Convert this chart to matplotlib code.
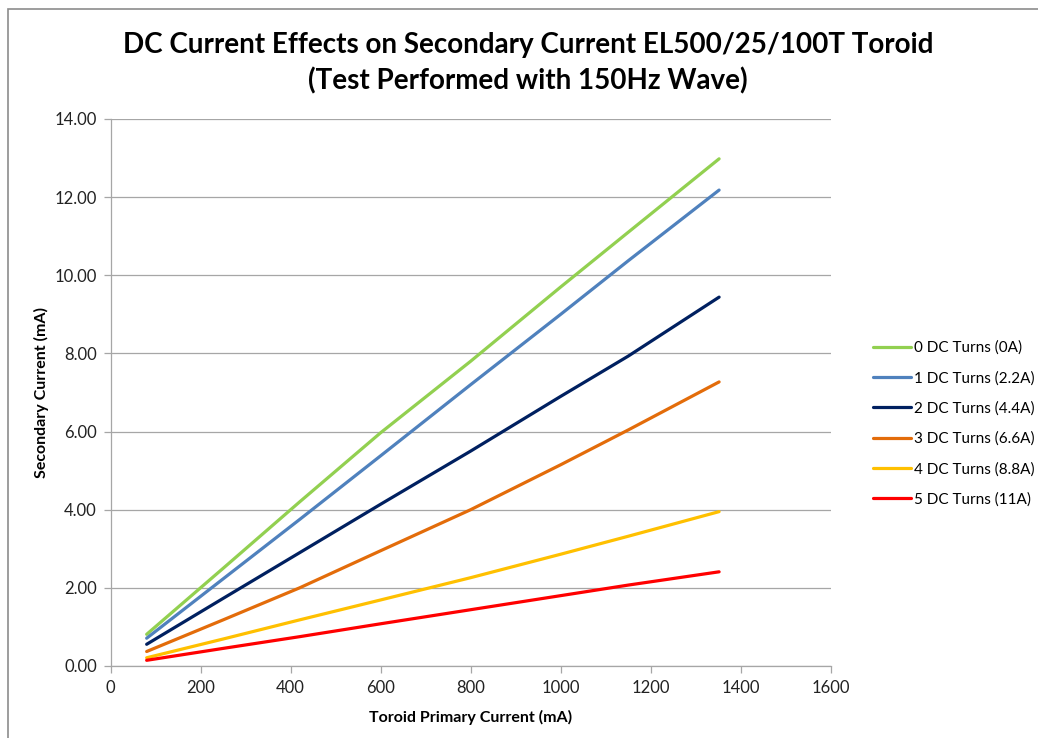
import numpy as np
import matplotlib
matplotlib.use("Agg")
import matplotlib.pyplot as plt
from matplotlib.patches import Rectangle

plt.rcParams['font.family'] = ['Lato', 'DejaVu Sans']

# primary current sweep (mA) and measured secondary current (mA)
primary_ma = [80, 250, 420, 600, 800, 1000, 1150, 1352]

turns_0 = [0.81, 2.50, 4.20, 5.97, 7.80, 9.70, 11.10, 12.98]
turns_1 = [0.71, 2.23, 3.75, 5.38, 7.20, 9.00, 10.37, 12.18]
turns_2 = [0.555, 1.73, 2.90, 4.14, 5.50, 6.90, 7.93, 9.44]
turns_3 = [0.37, 1.18, 2.00, 2.95, 4.00, 5.15, 6.04, 7.27]
turns_4 = [0.21, 0.69, 1.18, 1.69, 2.26, 2.86, 3.32, 3.95]
turns_5 = [0.145, 0.45, 0.75, 1.08, 1.44, 1.80, 2.07, 2.41]

series_names = ['0 DC Turns (0A)', '1 DC Turns (2.2A)', '2 DC Turns (4.4A)',
                '3 DC Turns (6.6A)', '4 DC Turns (8.8A)', '5 DC Turns (11A)']
series_vals = [turns_0, turns_1, turns_2, turns_3, turns_4, turns_5]
series_cols = ['#92d050', '#4f81bd', '#002060', '#e36c0a', '#ffc000', '#ff0000']

x_ticks = [0, 200, 400, 600, 800, 1000, 1200, 1400, 1600]
y_ticks = [0, 2, 4, 6, 8, 10, 12, 14]

fig = plt.figure(figsize=(10.38, 7.38), dpi=100)
ax = fig.add_axes([0.1066, 0.0976, 0.6937, 0.7412])

for name, vals, col in zip(series_names, series_vals, series_cols):
    ax.plot(primary_ma, vals, color=col, lw=2.3, label=name,
            solid_capstyle='round')

ax.set_xlim(0, 1600)
ax.set_ylim(0, 14)
ax.set_xticks(x_ticks)
ax.set_yticks(y_ticks)
ax.set_yticklabels(['%.2f' % v for v in y_ticks])

# excel-ish look: horizontal grid only, grey left/bottom axis
ax.grid(axis='y', color='#a6a6a6', lw=0.9)
ax.set_axisbelow(True)
for s in ['top', 'right']:
    ax.spines[s].set_visible(False)
for s in ['left', 'bottom']:
    ax.spines[s].set_color('#a6a6a6')
    ax.spines[s].set_linewidth(0.9)
ax.tick_params(axis='both', direction='out', length=5, width=0.9,
               color='#a6a6a6', labelsize=12, labelcolor='#222222', pad=5)

ax.set_xlabel('Toroid Primary Current (mA)', fontsize=11.5, fontweight='bold',
              labelpad=10)
ax.set_ylabel('Secondary Current (mA)', fontsize=11.5, fontweight='bold',
              labelpad=4)

fig.text(0.5087, 0.939, 'DC Current Effects on Secondary Current EL500/25/100T Toroid',
         ha='center', va='center', fontsize=20, fontweight='bold')
fig.text(0.5087, 0.891, '(Test Performed with 150Hz Wave)',
         ha='center', va='center', fontsize=20, fontweight='bold')

leg = ax.legend(loc='center left', bbox_to_anchor=(1.05, 0.443), frameon=False,
                fontsize=11, handlelength=2.5, handletextpad=0.2,
                labelspacing=1.05, borderaxespad=0)

# chart area border
fig.patches.append(Rectangle((7.5 / 1038, -0.1), 1.2, 1.1 - 9.5 / 738,
                             transform=fig.transFigure, fill=False,
                             edgecolor='#8c8c8c', lw=1.2))

fig.savefig('out.png', dpi=100)
